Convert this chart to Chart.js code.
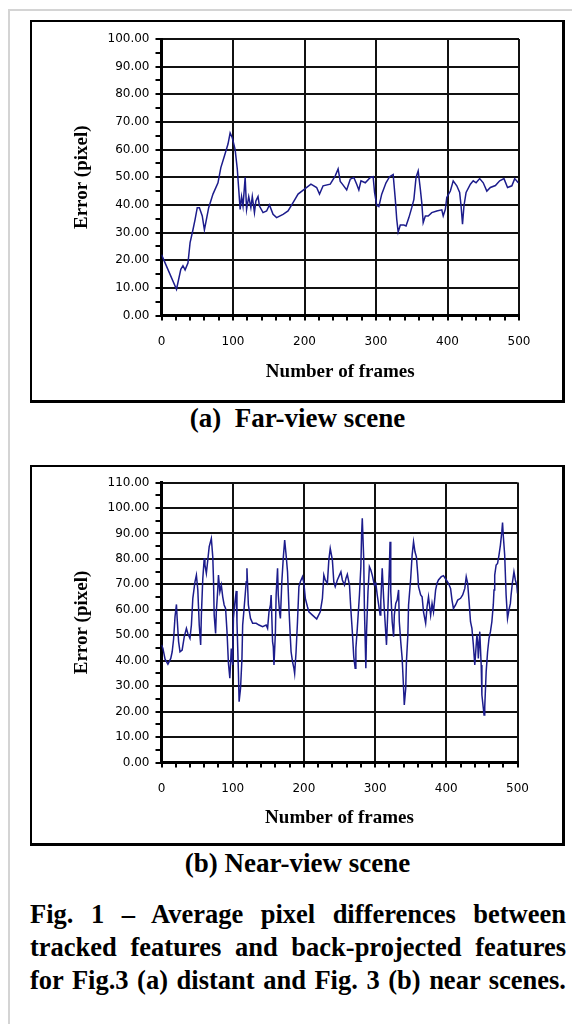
<!DOCTYPE html>
<html>
<head>
<meta charset="utf-8">
<script src="https://cdn.jsdelivr.net/npm/chart.js@4.4.1/dist/chart.umd.min.js"></script>
<style>
  html, body { margin: 0; padding: 0; background: #fff; }
  body { width: 572px; height: 1024px; position: relative; overflow: hidden; }
  .frame { position: absolute; left: 8px; top: 9px; width: 600px; height: 1100px;
           border-left: 2px solid #d4d4d4; border-top: 2px solid #d4d4d4; }
  .box { position: absolute; left: 30px; width: 530px; border: 2px solid #000;
         border-right-width: 3px; border-bottom-width: 3px; }
  .box canvas { position: absolute; left: 0; top: 0; }
  .cap { position: absolute; left: 30px; width: 535px; text-align: center;
         font: bold 27px "Liberation Serif", "Times New Roman", serif; line-height: 33px;
         white-space: pre; color: #000; }
  .fig { position: absolute; left: 30px; width: 536px; top: 898px;
         font: bold 26.5px "Liberation Serif", "Times New Roman", serif; line-height: 33px;
         text-align: justify; text-align-last: justify; color: #000; }
</style>
</head>
<body>
<div class="frame"></div>

<div class="box" style="top:20px;height:378px;"><canvas id="chartA" width="530" height="378"></canvas></div>
<div class="cap" style="top:402px;">(a)  Far-view scene</div>

<div class="box" style="top:465px;height:376px;"><canvas id="chartB" width="530" height="376"></canvas></div>
<div class="cap" style="top:847px;">(b) Near-view scene</div>

<div class="fig">Fig. 1 – Average pixel differences between tracked features and back-projected features for Fig.3 (a) distant and Fig. 3 (b) near scenes.</div>

<script>
// (a) far-view scene
const framesA = [0,21,27,30,33,37,40,44,47,50,53,57,60,66,72,79,83,88,93,96,99,103,106,110,112,114,117,119,122,125,127,130,132,135,137,142,147,151,156,161,170,177,184,191,200,209,217,221,226,236,243,247,250,253,259,264,269,273,276,279,285,292,296,298,301,304,308,314,319,324,327,329,331,334,339,342,346,350,353,356,359,362,364,366,369,373,378,385,392,394,397,399,404,408,413,417,419,421,423,426,432,436,440,445,450,455,460,467,473,479,484,490,494,499];
const errorA = [22,9.5,16.7,18,16.5,19,26.4,31,34.8,39,39,36,31,39,43.9,48,53.5,57.7,62,66,64.3,60,53,38.4,43,39.6,50,38.4,43,39,43,37.2,41.4,43,39.6,37.2,37.8,40,36.6,35.4,36.6,37.8,40.8,43.9,45.7,47.5,46.3,43.9,46.9,47.5,50.5,53,48.5,47.5,45.4,49.3,49.9,47.5,45.4,48.7,48,49.9,50.2,44.5,39.9,39.4,43.9,48,50.2,51,42,34.8,30.2,32.7,32.7,32.4,35.4,39,42,49.9,52.3,45.7,40.8,33.6,36,36,37.2,37.8,38.2,36,38.4,42.7,45,48.7,46.9,44.5,39.6,33,39.6,44.5,47.5,48.7,48,49.5,48,45,46.3,47,48.7,49.5,46.3,46.9,49.5,48];

// (b) near-view scene
const framesB = [0,2,5,9,13,15,17,19,21,22,24,26,29,32,35,37,40,42,44,47,49,51,53,55,56,58,60,61,63,65,67,70,72,73,74,76,77,79,80,82,84,86,88,90,92,94,96,98,100,101,103,105,106,108,109,111,113,114,116,119,120,122,125,128,133,137,142,147,149,151,153,154,156,157,158,160,161,163,164,166,167,169,171,173,175,177,179,181,182,184,186,187,189,191,193,195,198,200,202,205,207,212,218,223,226,228,230,233,235,237,240,242,244,247,250,252,254,257,259,261,264,266,268,270,272,273,275,278,280,281,282,284,285,287,288,290,292,294,296,299,301,303,305,307,308,310,312,314,316,318,320,321,322,324,326,327,329,331,333,334,336,338,340,341,343,344,346,347,350,352,354,356,358,360,361,364,366,368,371,373,375,378,380,382,385,387,389,393,396,400,403,406,408,410,413,416,420,423,426,428,430,432,434,436,438,440,441,443,444,445,447,449,450,452,453,454,456,458,460,462,464,466,467,468,470,472,474,476,478,479,480,482,484,486,488,490,491,493,495,497,499,500];
const errorB = [46.2,44.8,40.6,38.6,40.9,43.5,48.5,57.3,62.1,56.6,47.5,43.5,44.2,49.4,52.7,50.7,48.8,54,64.5,71,73.6,67.8,54,46.2,57.9,72.3,80.2,77.6,74.3,79.5,84.8,88,80.8,72.3,57.9,50.7,59.2,67.8,73.6,67.1,69.7,65.1,61.9,60.5,51.4,39,33.1,44.8,38.3,56.6,62.5,67.4,55.3,35.7,23.9,29.1,40.9,54,60.5,71,76.3,61.9,56.6,54.7,54.7,54,53.4,54,52.7,59.2,61.9,65.8,47.5,45.5,38.3,51.4,65.8,76.3,65.8,58.6,56.6,71,80.2,87.4,81.5,74.9,60.5,48.8,43.5,39.6,37,35,43.5,55.3,69.1,71,73,70.4,64.5,61.2,59.2,57.9,56.4,59.2,64.5,73.6,71.7,70.4,79.5,84.1,79.5,71,69.1,71.7,73.6,74.9,71.7,69.7,72.3,73.9,69.7,59.9,51.4,41.6,37,44.8,52.7,65.8,76.9,89.3,95.9,80.2,60.5,37,51.4,67.1,76.9,75.6,73.6,69.7,70.4,65.8,61.9,57.9,63.2,76.3,64.5,55.3,46.2,60.5,76.3,86.7,67.1,55.3,49.4,57.9,62.5,63.8,67.8,55.3,47.5,40.9,29.1,22.6,29.1,39.6,50.1,61.9,72.3,81.5,86.7,82.8,80.8,73.6,69.1,65.8,65.1,59.2,54.7,61.2,65.1,57.9,62.5,59.2,67.8,70.4,71.7,73,73.4,71.7,70.4,68.4,63.8,60.5,61.9,63.8,64.5,65.8,68.4,73,70.4,63.2,55.3,52.7,46.2,38.3,42.2,50.1,47.5,40.9,51.4,38.3,26.5,21.3,18.7,21.9,35.7,43.5,48.8,51.4,55.3,61.9,67.8,73.6,77.6,78.2,81.5,85.4,90.7,94.3,89.3,81.5,65.8,56.6,59.9,62.5,65.8,71,74.9,71.7,69.7,66.4];

const xMajor = 100;
const yMajor = 10;

Chart.defaults.color = "#000";
Chart.defaults.animation = false;

const tickFont = { family: "DejaVu Sans", size: 12 };
const titleFont = { family: "Liberation Serif", size: 19, weight: "bold" };

const makeChart = (id, frames, errors, yMax, pad, xHeight, titleBottom) => {
    const el = document.getElementById(id);
    return new Chart(el, {
        type: "scatter",
        data: {
            datasets: [{
                data: frames.map((f, i) => ({ x: f, y: errors[i] })),
                showLine: true,
                borderColor: "#1c1c8c",
                borderWidth: 1.5,
                pointRadius: 0,
                tension: 0,
            }]
        },
        options: {
            responsive: false,
            layout: { padding: pad },
            plugins: { legend: { display: false }, tooltip: { enabled: false } },
            scales: {
                x: {
                    type: "linear", min: 0, max: 500,
                    afterFit: s => { s.height = xHeight; },
                    ticks: {
                        stepSize: 20, autoSkip: false, maxRotation: 0,
                        font: tickFont, padding: 14,
                        callback: v => (v % xMajor === 0 ? String(v) : "")
                    },
                    grid: {
                        color: c => (c.tick && c.tick.value % xMajor === 0 ? "#111" : "rgba(0,0,0,0)"),
                        tickColor: "#000", lineWidth: 2, tickWidth: 2, tickLength: 5
                    },
                    border: { color: "#000", width: 3 },
                    title: {
                        display: true, text: "Number of frames", font: titleFont,
                        padding: { top: 0, bottom: titleBottom }
                    }
                },
                y: {
                    min: 0, max: yMax,
                    afterFit: s => { s.width = 129.5; },
                    ticks: {
                        stepSize: 5, autoSkip: false, font: tickFont, padding: 6,
                        callback: v => (v % yMajor === 0 ? v.toFixed(2) : "")
                    },
                    grid: {
                        color: c => (c.tick && c.tick.value % yMajor === 0 ? "#111" : "rgba(0,0,0,0)"),
                        tickColor: "#000", lineWidth: 2, tickWidth: 2, tickLength: 6
                    },
                    border: { color: "#000", width: 3 },
                    title: {
                        display: true, text: "Error (pixel)", font: titleFont,
                        padding: { top: 39, bottom: 0 }
                    }
                }
            }
        }
    });
};

makeChart("chartA", framesA, errorA, 100, { left: 0, right: 43, top: 17, bottom: 0 }, 84.5, 17);
makeChart("chartB", framesB, errorB, 110, { left: 0, right: 44.5, top: 15.5, bottom: 0 }, 80.5, 14);
</script>
</body>
</html>
